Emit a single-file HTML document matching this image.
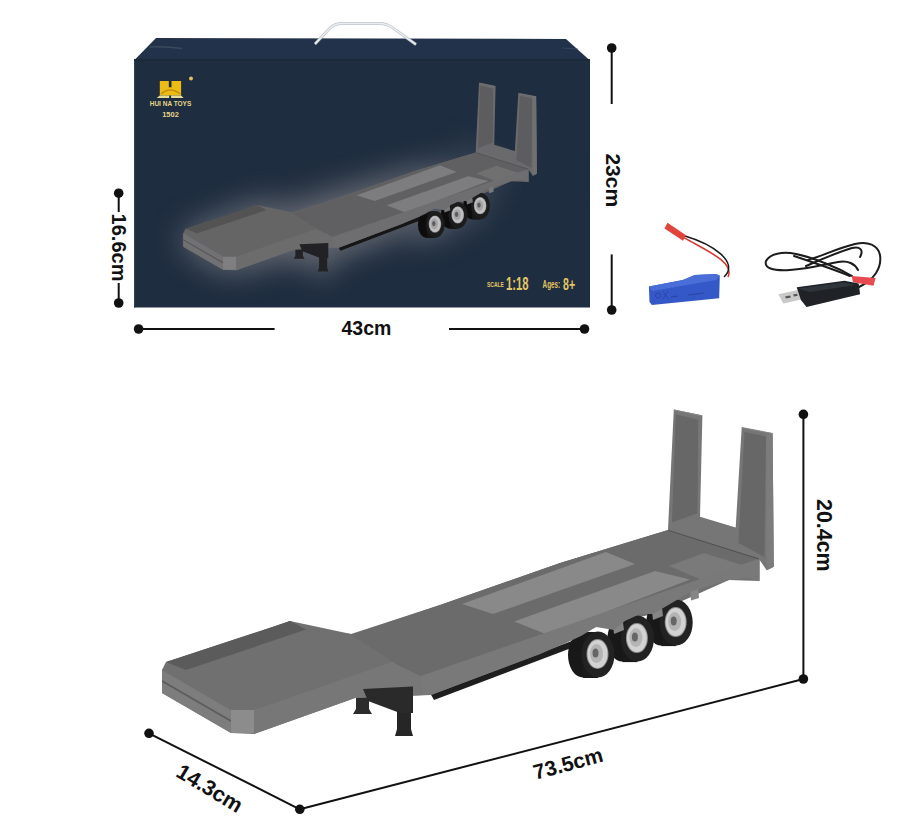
<!DOCTYPE html>
<html><head><meta charset="utf-8">
<style>
html,body{margin:0;padding:0;background:#fff;}
body{width:922px;height:840px;overflow:hidden;position:relative;font-family:"Liberation Sans",sans-serif;}
svg{position:absolute;left:0;top:0;}
</style></head>
<body>
<svg width="922" height="840" viewBox="0 0 922 840">
<defs>
  <radialGradient id="glow" cx="0.5" cy="0.5" r="0.5">
    <stop offset="0" stop-color="#5c5c64" stop-opacity="0.9"/>
    <stop offset="0.55" stop-color="#40444e" stop-opacity="0.5"/>
    <stop offset="1" stop-color="#1f2f43" stop-opacity="0"/>
  </radialGradient>
  <filter id="halo" x="-20%" y="-20%" width="140%" height="140%">
    <feFlood flood-color="#7e7e86" result="f"/>
    <feComposite in="f" in2="SourceAlpha" operator="in" result="c"/>
    <feMorphology in="c" operator="dilate" radius="10" result="d"/>
    <feGaussianBlur in="d" stdDeviation="24" result="b"/>
    <feComponentTransfer in="b"><feFuncA type="linear" slope="0.75"/></feComponentTransfer>
  </filter>
  <filter id="dim"><feComponentTransfer><feFuncR type="linear" slope="0.82"/><feFuncG type="linear" slope="0.82"/><feFuncB type="linear" slope="0.85"/></feComponentTransfer></filter>
  <radialGradient id="mg" cx="0.5" cy="0.5" r="0.5">
    <stop offset="0" stop-color="#fff"/>
    <stop offset="0.6" stop-color="#aaa"/>
    <stop offset="1" stop-color="#000"/>
  </radialGradient>
  <mask id="halomask" maskUnits="userSpaceOnUse" x="134" y="60" width="456" height="248">
    <ellipse cx="320" cy="225" rx="210" ry="110" fill="url(#mg)" transform="rotate(-14 320 225)"/>
  </mask>
  <g id="trailer">
    <!-- landing gear -->
    <polygon points="356,696 369,696 369,709 372,714 353,714 356,709" fill="#2c2c2c"/>
    <polygon points="397,706 411,706 411,729 413,736 395,736 397,729" fill="#262626"/>
    <!-- black rail -->
    <polygon points="430,693 572,641 574,647 434,700" fill="#1e1e1e"/>
    <polygon points="162,670 290,621 351,634 440,605 560,563 668,530 759.5,558.5 759.5,581 729,580 653,614 596,627 540,654 431,695 355,698 254,734 231,733 162,693" fill="#717171"/>
    <!-- gooseneck front end face -->
    <polygon points="162,670 231,710 231,733 162,693" fill="#7d7d7d"/>
    <polygon points="162,680 231,720 231,722 162,682" fill="#5c5c5c"/>
    <polygon points="231,710 254,710 254,733 231,733" fill="#8c8c8c"/>
    <!-- gooseneck near side -->
    <polygon points="254,710 394,661 425,672 423,695 355,698 254,734" fill="#777"/>
    <polygon points="363,689 413,686.5 413,713 400,713 368,701" fill="#2a2a2a"/>
    <!-- gooseneck top -->
    <polygon points="162,670 166,662 276,626 290,621 306,629 351,634 394,661 254,710 231,710" fill="#707070"/>
    <polygon points="166,662 290,621 306,629.5 186,670" fill="#5b5b5b"/>
    <!-- transition ramp -->
    <polygon points="351,634 394,661 425,672 421,676 398,665" fill="#686868"/>
    <!-- main deck top -->
    <polygon points="351,635 440,605 560,563 668,530 759.5,558.5 421,676 394,661" fill="#6b6b6b"/>
    <!-- light plates -->
    <polygon points="462,604 606,552 635,564 493,614" fill="#898989"/>
    <polygon points="514,621.5 655,571 690,579.5 547,634.5" fill="#898989"/>
    <polygon points="669,566 704,553 745,566 702,580" fill="#7a7a7a"/>
    <g>
      <ellipse cx="661.2" cy="623.1" rx="15" ry="22.5" fill="#181818"/>
      <rect x="661.2" y="600.1" width="15" height="46" fill="#1a1a1a"/>
      <ellipse cx="676.2" cy="622.6" rx="16.5" ry="23" fill="#222"/>
      <ellipse cx="675.7" cy="622.1" rx="11" ry="15" fill="#8e8e8e"/>
      <ellipse cx="675.7" cy="622.1" rx="10" ry="14" fill="#d2d2d2"/>
      <ellipse cx="674.7" cy="621.6" rx="6.5" ry="9.5" fill="#b4b4b4"/>
      <ellipse cx="673.7" cy="621.1" rx="3" ry="4.5" fill="#666"/>
    </g>
    <g>
      <ellipse cx="622.4" cy="639.1" rx="15" ry="22.5" fill="#181818"/>
      <rect x="622.4" y="616.1" width="15" height="46" fill="#1a1a1a"/>
      <ellipse cx="637.4" cy="638.6" rx="16.5" ry="23" fill="#222"/>
      <ellipse cx="636.9" cy="638.1" rx="11" ry="15" fill="#8e8e8e"/>
      <ellipse cx="636.9" cy="638.1" rx="10" ry="14" fill="#d2d2d2"/>
      <ellipse cx="635.9" cy="637.6" rx="6.5" ry="9.5" fill="#b4b4b4"/>
      <ellipse cx="634.9" cy="637.1" rx="3" ry="4.5" fill="#666"/>
    </g>
    <g>
      <ellipse cx="583" cy="655.0" rx="15" ry="22.5" fill="#181818"/>
      <rect x="583" y="632.0" width="15" height="46" fill="#1a1a1a"/>
      <ellipse cx="598" cy="654.5" rx="16.5" ry="23" fill="#222"/>
      <ellipse cx="597.5" cy="654.0" rx="11" ry="15" fill="#8e8e8e"/>
      <ellipse cx="597.5" cy="654.0" rx="10" ry="14" fill="#d2d2d2"/>
      <ellipse cx="596.5" cy="653.5" rx="6.5" ry="9.5" fill="#b4b4b4"/>
      <ellipse cx="595.5" cy="653.0" rx="3" ry="4.5" fill="#666"/>
    </g>
    <polygon points="612,618 622,614 624,630 614,634" fill="#858585"/>
    <polygon points="651,603 661,599 663,616 653,620" fill="#858585"/>
    <polygon points="690,589 698,586.5 699,598 691,600.5" fill="#858585"/>
    <!-- near side face -->
    <polygon points="421,676 759.5,558.5 759.5,581 748,578 729,580 692,591 665,607 653,614 640,614 625,621 614,630 596,627 581,636 566,643 540,654 431,695 423,695" fill="#797979"/>
    <!-- ramps -->
    <polygon points="673.8,409.5 702.4,415.5 700,516.7 735.7,527.4 741.7,427.4 772.6,433.3 773.8,566.7 766.7,570.2 759.5,559.8 667.9,531.2" fill="#767676"/>
    <polygon points="675.8,414.3 698.2,419.7 697.5,513.2 672,522.5" fill="#676767"/>
    <polygon points="744.5,432 766,436.5 764.5,557 738.5,543" fill="#676767"/>
    <polygon points="766,434 772.6,433.3 773.8,566.7 766.7,570.2" fill="#7c7c7c"/>
    <path d="M668.5,530.5 L759,559" stroke="#505050" stroke-width="1.2"/>
    <path d="M674,410 L702,415.8 M741.8,427.6 L772.4,433.5" stroke="#858585" stroke-width="1.2"/>
  </g>
    <g>
      <ellipse cx="627.4" cy="639.1" rx="15" ry="22.5" fill="#1a1a1a"/>
      <rect x="627.4" y="616.1" width="10" height="46" fill="#1a1a1a"/>
      <ellipse cx="637.4" cy="638.6" rx="16" ry="23" fill="#232323"/>
      <ellipse cx="636.9" cy="638.1" rx="10.5" ry="14.5" fill="#c4c4c4"/>
      <ellipse cx="635.9" cy="637.6" rx="7.5" ry="10.5" fill="#b0b0b0"/>
      <ellipse cx="634.9" cy="637.1" rx="3.5" ry="5.5" fill="#555"/>
    </g>
    <g>
      <ellipse cx="588" cy="655.0" rx="15" ry="22.5" fill="#1a1a1a"/>
      <rect x="588" y="632.0" width="10" height="46" fill="#1a1a1a"/>
      <ellipse cx="598" cy="654.5" rx="16" ry="23" fill="#232323"/>
      <ellipse cx="597.5" cy="654.0" rx="10.5" ry="14.5" fill="#c4c4c4"/>
      <ellipse cx="596.5" cy="653.5" rx="7.5" ry="10.5" fill="#b0b0b0"/>
      <ellipse cx="595.5" cy="653.0" rx="3.5" ry="5.5" fill="#555"/>
    </g>
  </g>
</defs>

<!-- box -->
<polygon points="134,60.5 156,38 566,39 590,60.5" fill="#22324a"/>
<polygon points="134,59 590,59 590,61 134,61" fill="#1a2838"/>
<path d="M150,47 Q165,46 182,48.5" stroke="#4a5a6a" stroke-width="1.5" fill="none" opacity="0.6"/>
<path d="M562,48 L578,49" stroke="#4a5a6a" stroke-width="1.2" fill="none" opacity="0.5"/>
<rect x="134" y="60.5" width="456" height="247" fill="#1e2d3f"/>
<rect x="134" y="60.5" width="1.2" height="247" fill="#2c3e52"/>
<ellipse cx="330" cy="220" rx="170" ry="70" fill="url(#glow)" opacity="0.45" transform="rotate(-12 330 220)"/>
<g mask="url(#halomask)"><use href="#trailer" transform="translate(89.6,-153.9) scale(0.578)" filter="url(#halo)"/></g>
<path d="M315,44 L330,28 Q335,23.5 342,23.5 L379,23.5 Q387,23.5 393,28 L416,44.5" fill="none" stroke="#bfc5cb" stroke-width="2.8"/>
<path d="M315,44 L330,28 Q335,23.5 342,23.5 L379,23.5 Q387,23.5 393,28 L416,44.5" fill="none" stroke="#eceff1" stroke-width="1.4"/>

<!-- logo -->
<g>
  <path d="M159.8,80.9 L168.8,80.9 L168.8,87.3 L171.5,87.3 L171.5,80.9 L181.1,80.9 L181.1,95.6 L159.8,95.6 Z" fill="#ecbc14"/>
  <path d="M161,94 Q170,86 180.3,94" fill="none" stroke="#c98e10" stroke-width="1.3"/>
  <path d="M156.7,97.9 L159.8,95.6 L169.2,95.6 L169.2,97.9 Z M171.1,97.9 L171.1,95.6 L181.1,95.6 L183.6,97.9 Z" fill="#e8dc98"/>
</g>
<circle cx="191" cy="78.6" r="2" fill="#e0c060"/>
<text x="170.5" y="105.5" font-size="6.5" font-weight="bold" fill="#e6d48a" text-anchor="middle" font-family="Liberation Sans">HUI NA TOYS</text>
<text x="170.5" y="117" font-size="7.5" font-weight="bold" fill="#e6d48a" text-anchor="middle" font-family="Liberation Sans">1502</text>

<!-- box trailer -->
<use href="#trailer" transform="translate(89.6,-153.9) scale(0.578)" filter="url(#dim)"/>

<!-- scale text -->
<g fill="#e4c664" font-family="Liberation Sans" font-weight="bold">
  <text x="0" y="0" font-size="7.8" transform="translate(487,286.8) scale(0.64,1)">SCALE</text>
  <text x="0" y="0" font-size="17.6" transform="translate(506,289.5) scale(0.64,1)">1:18</text>
  <text x="0" y="0" font-size="10.9" transform="translate(542.6,287.5) scale(0.58,1)">Ages:</text>
  <text x="0" y="0" font-size="16.8" transform="translate(563,289.5) scale(0.63,1)">8+</text>
</g>


<!-- battery -->
<g>
  <path d="M684,237.6 C705,250 735,262 728,277" fill="none" stroke="#d83a32" stroke-width="1.6"/>
  <path d="M685,236 C712,244 740,262 724,277" fill="none" stroke="#1a1a1a" stroke-width="1.4"/>
  <polygon points="664.5,228.5 667.5,222.8 686,235.2 683,240.8" fill="#e0443a"/>
  <polygon points="648.9,286.4 682.9,279.9 694.8,275.1 716.2,273.9 719.8,275.7 719.2,298.3 651.9,304.9 649.5,301.9" fill="#3558c8"/>
  <polygon points="648.9,286.4 682.9,279.9 694.8,275.1 716.2,273.9 719.8,275.7 716,280 652,291" fill="#4a6ed8"/>
  <circle cx="658" cy="295.5" r="2.6" fill="none" stroke="#2a44a8" stroke-width="0.9"/>
  <path d="M663,291 L668,299 M668,291 L663,299" stroke="#2a44a8" stroke-width="0.9"/>
  <path d="M671,297 L678,296 M688,295 L704,293" stroke="#2a44a0" stroke-width="1"/>
</g>
<!-- usb cable -->
<g fill="none" stroke="#1c1c1c" stroke-width="2" stroke-linecap="round">
  <path d="M859,287 C874,280 882,268 880,255 C878,245 868,241 855,244 C838,248 822,256 808,260"/>
  <path d="M852,276 C838,268 815,258 796,254 C782,251 770,254 766,261 C764,268 772,271 790,270 C808,269 822,265 838,262 C848,260 855,264 858,270"/>
  <path d="M806,266 C820,260 838,252 852,248 C860,246 864,250 860,257"/>
  <path d="M794,256 C812,262 835,270 850,276"/>
</g>
<g>
  <polygon points="851.7,275.9 875.6,278 873.5,285.8 853,282.2" fill="#e84a50"/>
  <polygon points="778.3,294.2 798.1,290 802.3,299.2 783.3,303.4" fill="#c9c9c9"/>
  <polygon points="785,296.5 790,295.5 791,297.5 786,298.5" fill="#555"/>
  <polygon points="793,294.5 797,293.8 797.8,295.8 794,296.5" fill="#555"/>
  <polygon points="796.7,287.2 844.6,280.8 858.7,283.6 860.1,294.2 806.5,306.9 800.9,299.9" fill="#1f2327"/>
  <polygon points="798,288.5 844,282.5 856,285 810,292" fill="#2f353b"/>
</g>

<!-- big trailer -->
<use href="#trailer"/>

<!-- dimension lines -->
<g stroke="#111" stroke-width="2" fill="none">
  <line x1="118.7" y1="193" x2="118.7" y2="212"/>
  <line x1="118.7" y1="283" x2="118.7" y2="303"/>
  <line x1="138.6" y1="329" x2="274.6" y2="329"/>
  <line x1="449" y1="329" x2="584.5" y2="329"/>
  <line x1="611.7" y1="48" x2="611.7" y2="104"/>
  <line x1="611.7" y1="254.4" x2="611.7" y2="310"/>
  <line x1="803.4" y1="414.4" x2="803.4" y2="679"/>
  <line x1="803.4" y1="679" x2="299.8" y2="809.3"/>
  <line x1="299.8" y1="809.3" x2="149" y2="733.3"/>
</g>
<g fill="#111">
  <circle cx="118.7" cy="193.2" r="4.8"/>
  <circle cx="118.7" cy="303" r="4.8"/>
  <circle cx="138.6" cy="329" r="4.8"/>
  <circle cx="584.5" cy="329" r="4.8"/>
  <circle cx="611.7" cy="48" r="4.8"/>
  <circle cx="611.7" cy="310" r="4.8"/>
  <circle cx="803.4" cy="414.4" r="4.8"/>
  <circle cx="803.4" cy="679" r="4.8"/>
  <circle cx="299.8" cy="809.3" r="4.8"/>
  <circle cx="149" cy="733.3" r="4.8"/>
</g>
<g fill="#111" font-family="Liberation Sans" font-weight="bold" font-size="20">
  <text x="0" y="0" transform="translate(112.3,247.5) rotate(90)" text-anchor="middle">16.6cm</text>
  <text x="0" y="0" transform="translate(606.3,180.3) rotate(90)" text-anchor="middle" font-size="21">23cm</text>
  <text x="366.4" y="335.2" text-anchor="middle" font-size="19.5">43cm</text>
  <text x="0" y="0" transform="translate(816.5,535.3) rotate(90)" text-anchor="middle" font-size="21.4">20.4cm</text>
  <text x="0" y="0" transform="translate(570,770.5) rotate(-15)" text-anchor="middle" font-size="21">73.5cm</text>
  <text x="0" y="0" transform="translate(206,794.5) rotate(31)" text-anchor="middle" font-size="21.5">14.3cm</text>
</g>
</svg>
</body></html>
